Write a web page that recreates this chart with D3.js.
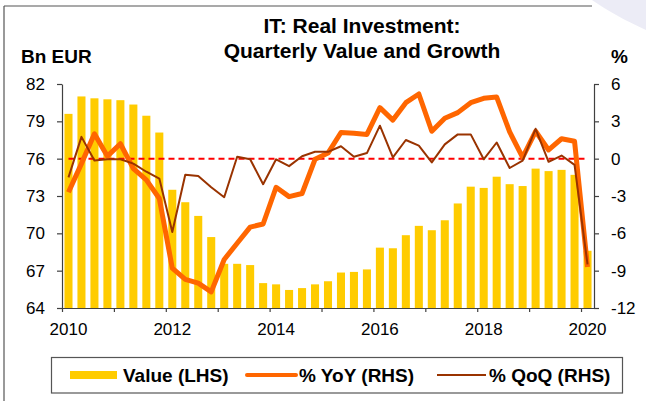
<!DOCTYPE html>
<html>
<head>
<meta charset="utf-8">
<script src="https://cdn.jsdelivr.net/npm/d3@7"></script>
<style>
  body { margin: 0; background: #fff; }
  svg { display: block; font-family: "Liberation Sans", Arial, sans-serif; }
</style>
</head>
<body>
<script>
// size of the picture and the plot box
var width = 646, height = 401;
var plotLeft = 62, plotRight = 594, plotTop = 84, plotBottom = 308;

// quarters 2010Q1 .. 2020Q1
var quarters = [];
for (var yr = 2010; yr <= 2020; yr++) {
	for (var q = 1; q <= 4; q++) {
		if (yr == 2020 && q > 1) break;
		quarters.push(yr + 'Q' + q);
	}
}

// real investment, bn EUR (LHS)
var value = [79.6, 81.0, 80.85, 80.77, 80.7, 80.35, 79.45, 78.1,
	73.5, 72.5, 71.4, 69.7, 67.55, 67.55, 67.45, 66.0,
	65.9, 65.45, 65.6, 65.9, 66.15, 66.85, 66.9, 67.1,
	68.85, 68.8, 69.85, 70.6, 70.25, 71.05, 72.4, 73.75,
	73.65, 74.55, 73.95, 73.8, 75.2, 75.0, 75.1, 74.7, 68.6];

// % YoY (RHS)
var yoy = [-2.7, -0.4, 2.0, 0.2, 1.2, -0.8, -1.7, -3.2,
	-8.8, -9.7, -10.0, -10.7, -8.1, -6.8, -5.5, -5.25,
	-2.3, -3.05, -2.8, -0.05, 0.45, 2.1, 2.05, 1.95,
	4.1, 3.1, 4.5, 5.2, 2.2, 3.25, 3.7, 4.5,
	4.85, 4.95, 2.15, 0.1, 2.2, 0.7, 1.6, 1.4, -8.7];

// % QoQ (RHS)
var qoq = [-1.5, 1.75, -0.15, -0.05, -0.05, -0.4, -1.05, -1.6,
	-5.9, -1.3, -1.4, -2.3, -3.1, 0.15, -0.05, -2.05,
	-0.05, -0.6, 0.2, 0.55, 0.55, 1.0, 0.15, 0.45,
	2.65, 0.1, 1.5, 1.05, -0.3, 1.15, 1.95, 1.95,
	-0.05, 1.3, -0.75, -0.15, 2.4, -0.25, 0.25, -0.5, -8.5];

var leftTicks = [64, 67, 70, 73, 76, 79, 82];
var rightTicks = [-12, -9, -6, -3, 0, 3, 6];
var yearLabels = ['2010Q1', '2012Q1', '2014Q1', '2016Q1', '2018Q1', '2020Q1'];
var series = [
	{ name: 'Value (LHS)', kind: 'bar' },
	{ name: '% YoY (RHS)', kind: 'yoy' },
	{ name: '% QoQ (RHS)', kind: 'qoq' }
];

var barColor = '#FFCC00', yoyColor = '#FF6600', qoqColor = '#993300', axisColor = '#404040';

var svg = d3.select('body').append('svg').attr('width', width).attr('height', height);

// frame: light shape top right, then the border lines
svg.append('path')
	.attr('d', 'M592,0 L646,0 L646,30 C628,22 606,10 592,0 Z')
	.attr('fill', '#ECECF6');
svg.append('line').attr('x1', 4).attr('x2', 592).attr('y1', 6).attr('y2', 6)
	.attr('stroke', '#555').attr('stroke-width', 1.2);
svg.append('line').attr('x1', 4).attr('x2', 4).attr('y1', 6).attr('y2', height)
	.attr('stroke', '#555').attr('stroke-width', 1.2);

var x = d3.scaleBand().domain(quarters).range([plotLeft, plotRight]).paddingInner(0.38).paddingOuter(0.19);
var xi = d3.scaleLinear().domain([0, quarters.length]).range([plotLeft, plotRight]);
var yL = d3.scaleLinear().domain([64, 82]).range([plotBottom, plotTop]);
var yR = d3.scaleLinear().domain([-12, 6]).range([plotBottom, plotTop]);
var cx = d => x(d) + x.bandwidth() / 2;

// bars
svg.append('g').selectAll('rect').data(value).enter().append('rect')
	.attr('x', (d, i) => x(quarters[i]))
	.attr('width', x.bandwidth())
	.attr('y', d => yL(d))
	.attr('height', d => yL(64) - yL(d))
	.attr('fill', barColor);

// zero line
svg.append('line')
	.attr('x1', cx(quarters[0])).attr('x2', cx(quarters[quarters.length - 1]))
	.attr('y1', yR(0)).attr('y2', yR(0))
	.attr('stroke', '#FF0000').attr('stroke-width', 2).attr('stroke-dasharray', '6,4');

var line = d3.line().x((d, i) => cx(quarters[i])).y(d => yR(d));
svg.append('path').datum(yoy).attr('d', line)
	.attr('fill', 'none').attr('stroke', yoyColor).attr('stroke-width', 5).attr('stroke-linejoin', 'round');
svg.append('path').datum(qoq).attr('d', line)
	.attr('fill', 'none').attr('stroke', qoqColor).attr('stroke-width', 2).attr('stroke-linejoin', 'round');

// axes (plain hyphen for negatives, as in the original)
var leftAxis = svg.append('g').attr('transform', 'translate(' + plotLeft + ',0)')
	.call(d3.axisLeft(yL).tickValues(leftTicks).tickSize(5).tickPadding(12).tickSizeOuter(0).tickFormat(d => String(d)));
var rightAxis = svg.append('g').attr('transform', 'translate(' + plotRight + ',0)')
	.call(d3.axisRight(yR).tickValues(rightTicks).tickSize(5).tickPadding(12).tickSizeOuter(0).tickFormat(d => String(d)));
var xAxis = svg.append('g').attr('transform', 'translate(0,' + plotBottom + ')')
	.call(d3.axisBottom(xi).tickValues(d3.range(0, quarters.length, 4)).tickSize(4).tickFormat('').tickSizeOuter(0));
var xLabels = svg.append('g').attr('transform', 'translate(0,' + plotBottom + ')')
	.call(d3.axisBottom(x).tickValues(yearLabels).tickSize(0).tickPadding(15).tickFormat(d => d.slice(0, 4)));
xLabels.select('.domain').remove();

[leftAxis, rightAxis, xAxis, xLabels].forEach(g => {
	g.selectAll('.domain, line').attr('stroke', axisColor).attr('stroke-width', 1.2);
	g.selectAll('text').attr('font-size', 17).attr('fill', '#000')
		.attr('font-family', '"Liberation Sans", Arial, sans-serif');
});

// titles
svg.append('text').attr('x', 362).attr('y', 33).attr('text-anchor', 'middle')
	.attr('font-size', 21).attr('font-weight', 'bold').text('IT: Real Investment:');
svg.append('text').attr('x', 362).attr('y', 58).attr('text-anchor', 'middle')
	.attr('font-size', 21).attr('font-weight', 'bold').text('Quarterly Value and Growth');
svg.append('text').attr('x', 21).attr('y', 63)
	.attr('font-size', 19).attr('font-weight', 'bold').text('Bn EUR');
svg.append('text').attr('x', 611).attr('y', 63)
	.attr('font-size', 19).attr('font-weight', 'bold').text('%');

// legend
var legend = svg.append('g');
legend.append('rect').attr('x', 51.5).attr('y', 357.5).attr('width', 571).attr('height', 35.5)
	.attr('fill', '#fff').attr('stroke', '#555').attr('stroke-width', 1.2);
var legendX = [70, 247, 437];
var items = legend.selectAll('g.item').data(series).enter().append('g')
	.attr('transform', (d, i) => 'translate(' + legendX[i] + ',375)');
items.each(function (d) {
	var g = d3.select(this);
	if (d.kind == 'bar') {
		g.append('rect').attr('x', 0).attr('y', -4).attr('width', 47).attr('height', 8).attr('fill', barColor);
	} else {
		g.append('line').attr('x1', 0).attr('x2', 49).attr('y1', 0).attr('y2', 0)
			.attr('stroke', d.kind == 'yoy' ? yoyColor : qoqColor)
			.attr('stroke-width', d.kind == 'yoy' ? 4 : 2).attr('stroke-linecap', d.kind == 'yoy' ? 'round' : 'butt');
	}
	g.append('text').attr('x', d.kind == 'bar' ? 53 : 52).attr('y', 6.5)
		.attr('font-size', 19).attr('font-weight', 'bold').text(d.name);
});
</script>
</body>
</html>
